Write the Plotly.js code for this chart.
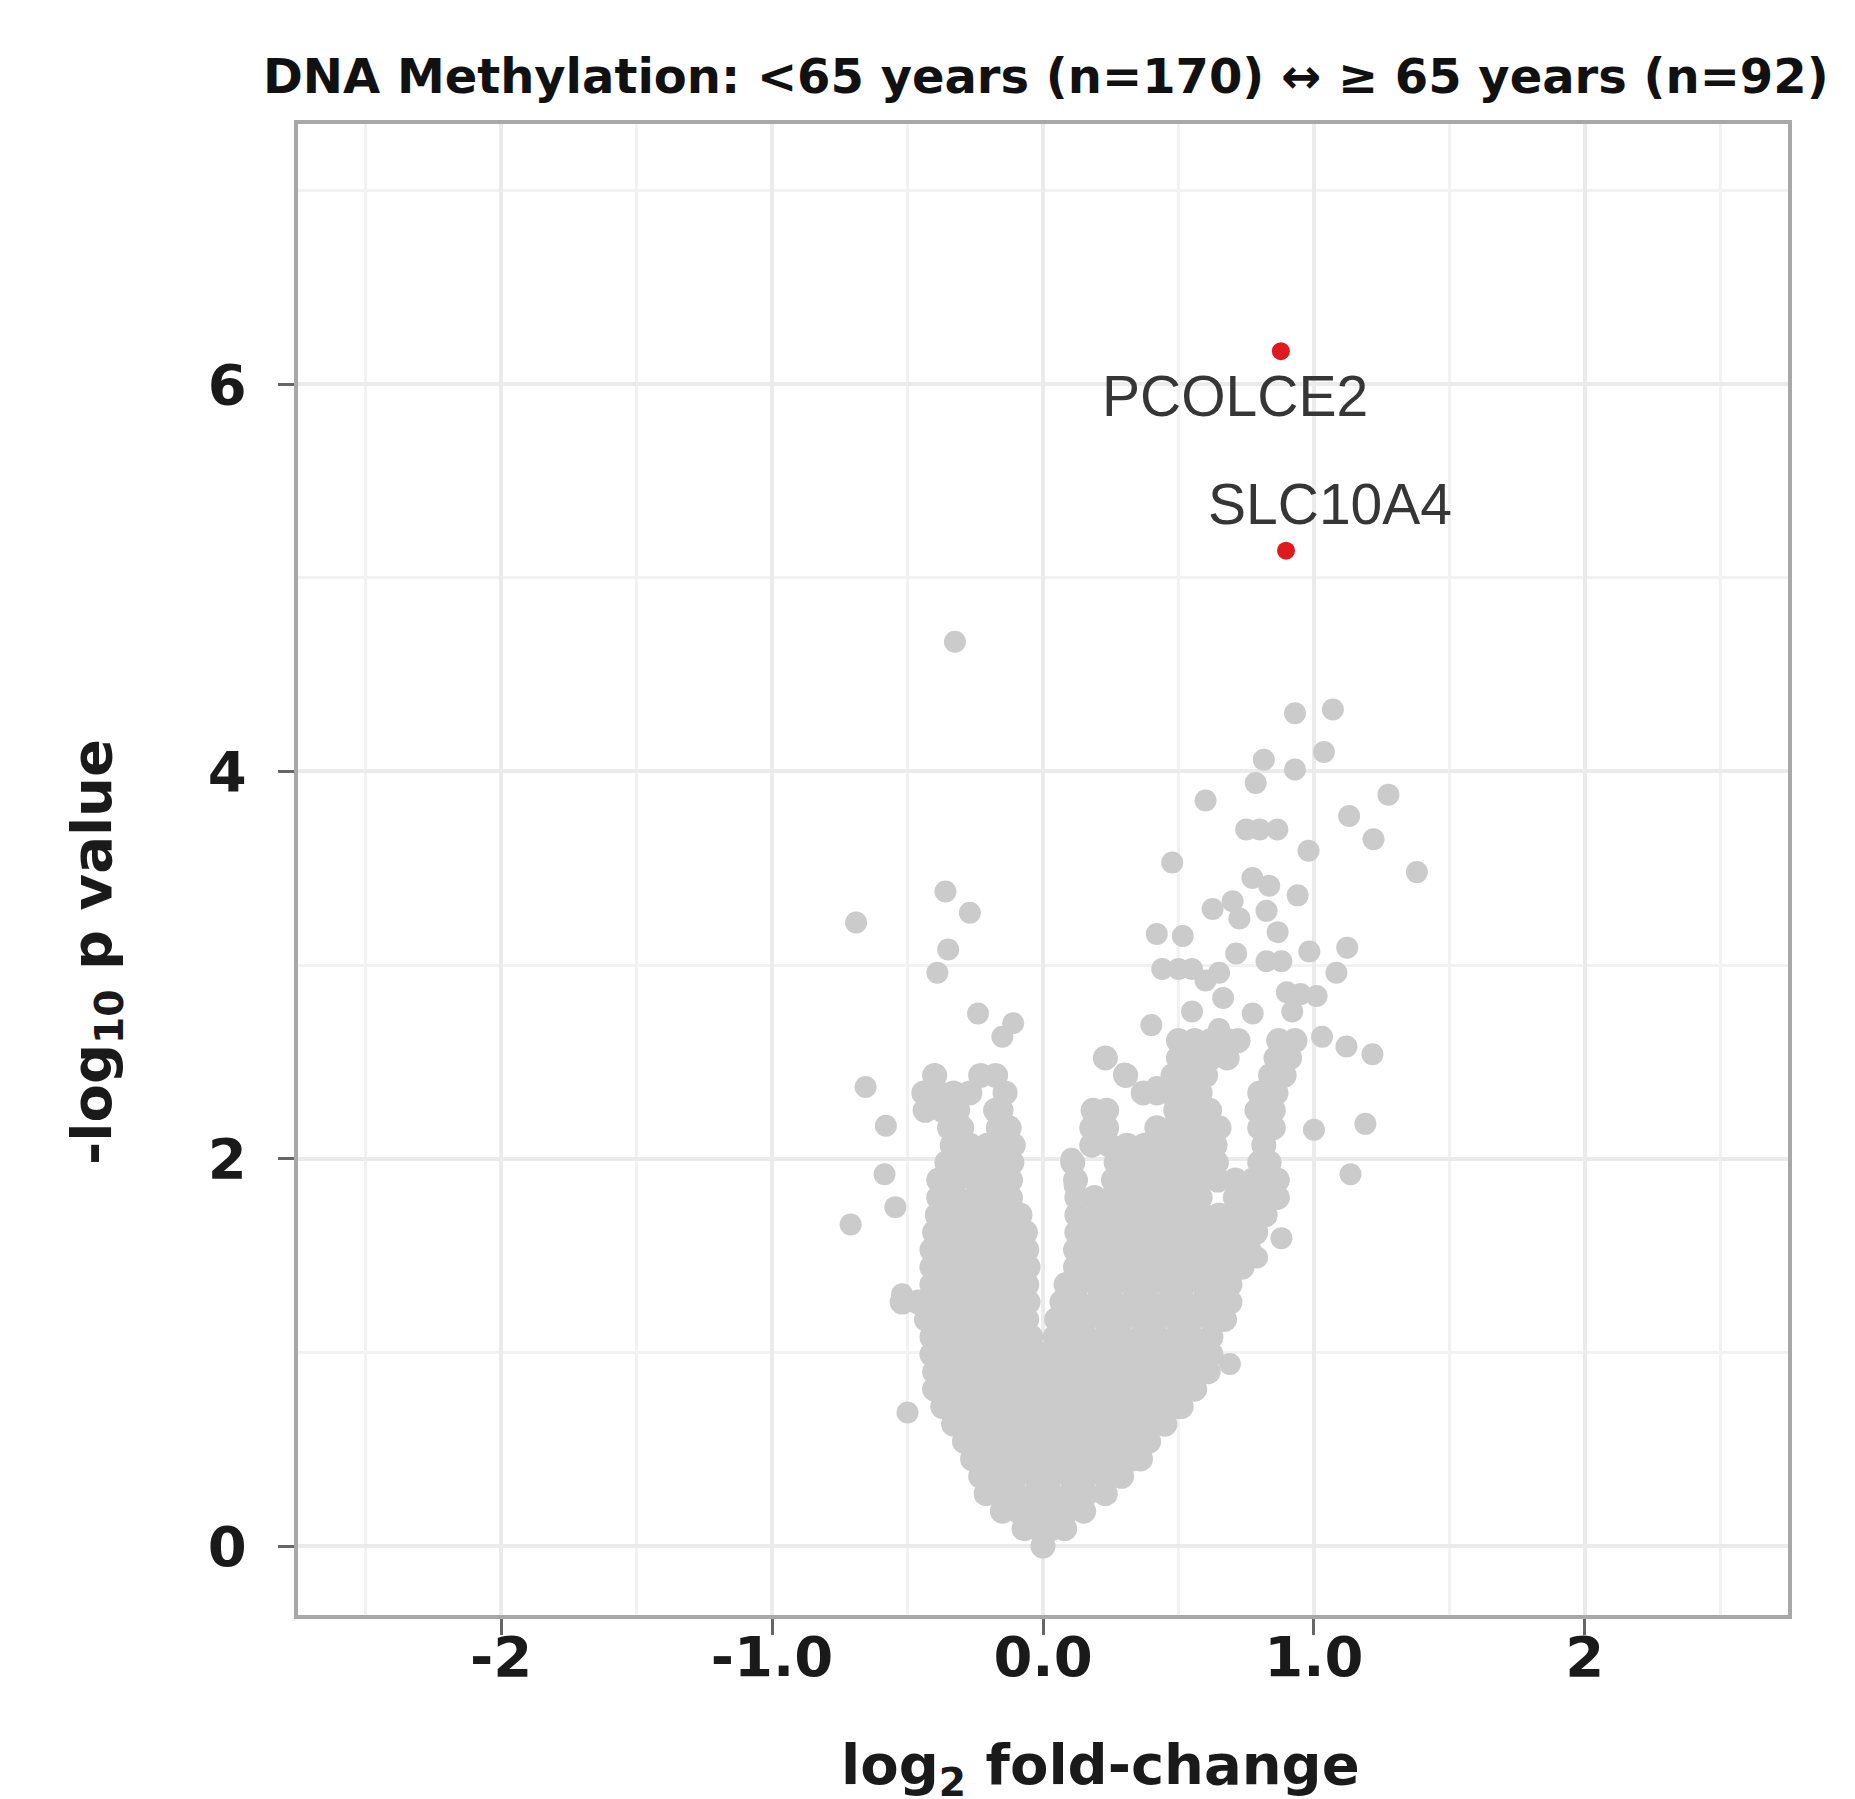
<!DOCTYPE html>
<html>
<head>
<meta charset="utf-8">
<script src="https://cdn.plot.ly/plotly-3.0.1.min.js"></script>
<style>html,body{margin:0;padding:0;background:#fff;}#plot{width:1855px;height:1799px;}</style>
</head>
<body>
<div id="plot"></div>
<script>
// ---- data ----
const titleText = "DNA Methylation: &lt;65 years (n=170) ↔ ≥ 65 years (n=92)";
const xTickVals = [-2, -1, 0, 1, 2];
const xTickText = ["-2", "-1.0", "0.0", "1.0", "2"];
const yTickVals = [0, 2, 4, 6];
const yTickText = ["0", "2", "4", "6"];

// dense cloud of non-significant CpGs, read row by row (-log10 p level, log2FC values)
const cloudRowY = [0.00, 0.09, 0.18, 0.27, 0.36, 0.45, 0.54, 0.63, 0.72, 0.81, 0.90, 0.99, 1.08, 1.17, 1.26, 1.35,
  1.44, 1.53, 1.62, 1.71, 1.80, 1.89, 1.98, 2.07, 2.16, 2.25, 2.34, 2.43, 2.52, 2.61];
const cloudRowX = [
  [0],
  [-0.07, -0.02, 0.03, 0.08],
  [-0.15, -0.09, -0.03, 0.03, 0.09, 0.15],
  [-0.21, -0.16, -0.10, -0.03, 0.03, 0.10, 0.16, 0.23],
  [-0.23, -0.16, -0.10, -0.03, 0.03, 0.10, 0.16, 0.23, 0.29],
  [-0.26, -0.20, -0.13, -0.07, 0, 0.07, 0.13, 0.20, 0.26, 0.33, 0.36],
  [-0.29, -0.23, -0.16, -0.10, -0.03, 0.03, 0.10, 0.16, 0.23, 0.29, 0.36, 0.39],
  [-0.33, -0.26, -0.20, -0.13, -0.07, 0, 0.07, 0.13, 0.20, 0.26, 0.33, 0.39, 0.45],
  [-0.37, -0.29, -0.23, -0.16, -0.10, -0.03, 0.03, 0.10, 0.16, 0.23, 0.29, 0.36, 0.42, 0.49, 0.51],
  [-0.40, -0.33, -0.26, -0.20, -0.13, -0.07, 0, 0.07, 0.13, 0.20, 0.26, 0.33, 0.39, 0.46, 0.52, 0.56],
  [-0.40, -0.36, -0.29, -0.23, -0.16, -0.10, -0.03, 0.03, 0.10, 0.16, 0.23, 0.29, 0.36, 0.42, 0.49, 0.55, 0.61],
  [-0.41, -0.33, -0.26, -0.20, -0.13, -0.07, 0, 0.07, 0.13, 0.20, 0.26, 0.33, 0.39, 0.46, 0.52, 0.59, 0.62],
  [-0.41, -0.36, -0.29, -0.23, -0.16, -0.10, -0.045, 0.045, 0.10, 0.16, 0.23, 0.29, 0.36, 0.42, 0.49, 0.55, 0.62],
  [-0.43, -0.39, -0.33, -0.26, -0.20, -0.13, -0.06, 0.05, 0.10, 0.16, 0.23, 0.29, 0.36, 0.42, 0.49, 0.55, 0.62, 0.67],
  [-0.52, -0.46, -0.42, -0.36, -0.29, -0.23, -0.16, -0.10, -0.055, 0.07, 0.13, 0.20, 0.26, 0.33, 0.39, 0.46, 0.52, 0.59, 0.65, 0.69],
  [-0.41, -0.33, -0.26, -0.20, -0.13, -0.06, 0.085, 0.13, 0.20, 0.26, 0.33, 0.39, 0.46, 0.52, 0.59, 0.65, 0.69],
  [-0.41, -0.36, -0.29, -0.23, -0.16, -0.10, -0.055, 0.12, 0.16, 0.23, 0.29, 0.36, 0.42, 0.49, 0.55, 0.62, 0.68, 0.735],
  [-0.41, -0.33, -0.26, -0.20, -0.13, -0.06, 0.12, 0.20, 0.26, 0.33, 0.39, 0.46, 0.52, 0.59, 0.65, 0.72, 0.76],
  [-0.40, -0.36, -0.29, -0.23, -0.16, -0.10, -0.065, 0.125, 0.16, 0.23, 0.29, 0.36, 0.42, 0.49, 0.55, 0.62, 0.68, 0.75, 0.785],
  [-0.39, -0.33, -0.26, -0.20, -0.13, -0.085, 0.125, 0.20, 0.26, 0.33, 0.39, 0.46, 0.52, 0.59, 0.65, 0.72, 0.78, 0.82],
  [-0.385, -0.32, -0.25, -0.185, -0.12, 0.125, 0.19, 0.255, 0.32, 0.385, 0.45, 0.515, 0.58, 0.71, 0.775, 0.84, 0.865],
  [-0.385, -0.32, -0.25, -0.185, -0.12, 0.12, 0.26, 0.32, 0.385, 0.45, 0.515, 0.58, 0.645, 0.71, 0.775, 0.84, 0.865],
  [-0.355, -0.29, -0.225, -0.16, -0.115, 0.11, 0.27, 0.33, 0.395, 0.46, 0.525, 0.59, 0.64, 0.80, 0.835],
  [-0.335, -0.27, -0.205, -0.14, -0.11, 0.18, 0.245, 0.31, 0.375, 0.44, 0.505, 0.57, 0.635, 0.815],
  [-0.345, -0.30, -0.165, -0.125, 0.18, 0.235, 0.42, 0.48, 0.545, 0.61, 0.65, 0.80, 0.85],
  [-0.435, -0.37, -0.315, -0.175, -0.155, 0.185, 0.235, 0.49, 0.55, 0.615, 0.79, 0.85],
  [-0.44, -0.385, -0.33, -0.27, -0.14, 0.37, 0.42, 0.47, 0.53, 0.58, 0.80, 0.86],
  [-0.40, -0.23, -0.175, 0.305, 0.48, 0.54, 0.60, 0.84, 0.89],
  [0.23, 0.50, 0.56, 0.62, 0.68, 0.86, 0.91],
  [0.50, 0.56, 0.62, 0.68, 0.72, 0.87, 0.93]
];

// scattered non-significant points outside the dense cloud
const outlierX = [-0.325, -0.36, -0.27, -0.69, -0.35, -0.39, -0.24, -0.11, -0.15, -0.655, -0.58, -0.585, -0.545, -0.71, -0.52, -0.50,
  0.93, 1.07, 1.037, 0.815, 0.93, 0.785, 0.60, 1.275, 1.13, 1.22, 0.75, 0.80, 0.865, 0.98, 1.38, 0.477, 0.773, 0.835, 0.94,
  0.626, 0.70, 0.725, 0.825, 0.866, 0.42, 0.516, 0.713, 0.825, 0.88, 0.983, 1.123, 0.44, 0.50, 0.55, 0.65, 1.083, 0.60,
  0.665, 0.55, 0.40, 0.774, 0.90, 0.95, 1.01, 0.92, 1.03, 1.12, 1.216, 0.234, 0.30, 0.42, 0.19, 0.105, 0.117, 1.0, 1.19,
  1.135, 0.88, 0.69, 0.73, 0.79, 0.65];
const outlierY = [4.67, 3.38, 3.27, 3.22, 3.08, 2.96, 2.75, 2.70, 2.63, 2.37, 2.17, 1.92, 1.75, 1.66, 1.30, 0.69,
  4.30, 4.32, 4.10, 4.06, 4.01, 3.94, 3.85, 3.88, 3.77, 3.65, 3.70, 3.70, 3.70, 3.59, 3.48, 3.53, 3.45, 3.41, 3.36,
  3.29, 3.33, 3.24, 3.28, 3.17, 3.16, 3.15, 3.06, 3.02, 3.02, 3.07, 3.09, 2.98, 2.98, 2.98, 2.96, 2.96, 2.92,
  2.83, 2.76, 2.69, 2.75, 2.86, 2.85, 2.84, 2.76, 2.63, 2.58, 2.54, 2.52, 2.44, 2.37, 2.21, 2.00, 1.86, 2.15, 2.18,
  1.92, 1.59, 0.94, 1.49, 1.49, 2.67];

// significant genes
const sigGenes = ["PCOLCE2", "SLC10A4"];
const sigX = [0.878, 0.897];
const sigY = [6.17, 5.14];
const labelX = [0.71, 1.061];
const labelY = [5.94, 5.38];

// ---- build traces ----
const cloudX = [], cloudY = [];
cloudRowY.forEach((yv, i) => { cloudRowX[i].forEach(xv => { cloudX.push(xv); cloudY.push(yv); }); });

const boldFont = {family: "DejaVu Sans, Arial, sans-serif", weight: "bold", color: "#1a1a1a"};

const traces = [
  {type: "scatter", mode: "markers", x: cloudX, y: cloudY, hoverinfo: "skip",
   marker: {color: "#cbcbcb", size: 25, line: {width: 0}}, showlegend: false},
  {type: "scatter", mode: "markers", x: outlierX, y: outlierY, hoverinfo: "skip",
   marker: {color: "#cbcbcb", size: 22, line: {width: 0}}, showlegend: false},
  {type: "scatter", mode: "markers", x: sigX, y: sigY, text: sigGenes,
   marker: {color: "#e0191e", size: 18, line: {width: 0}}, showlegend: false}
];

const annotations = sigGenes.map((g, i) => ({
  x: labelX[i], y: labelY[i], xref: "x", yref: "y", text: g, showarrow: false,
  xanchor: "center", yanchor: "middle",
  font: {family: "Liberation Sans, Arial, sans-serif", size: 57, color: "#363636"}
}));
annotations.push({
  xref: "paper", yref: "paper", x: (1100 - 298) / (1788 - 298), y: (1799 - 1768 - 184) / (1615 - 124),
  text: "log<sub>2</sub> fold-change", showarrow: false, xanchor: "center", yanchor: "middle",
  font: Object.assign({}, boldFont, {size: 56})
});
annotations.push({
  xref: "paper", yref: "paper", x: (95 - 298) / (1788 - 298), y: (1615 - 952) / (1615 - 124),
  text: "-log<sub>10</sub> p value", showarrow: false, textangle: -90, xanchor: "center", yanchor: "middle",
  font: Object.assign({}, boldFont, {size: 56})
});

const axisCommon = {
  showgrid: true, gridcolor: "#ebebeb", gridwidth: 4, zeroline: false,
  showline: true, mirror: true, linecolor: "#a8a8a8", linewidth: 4,
  ticks: "outside", ticklen: 16, tickwidth: 3, tickcolor: "#666666",
  tickfont: Object.assign({}, boldFont, {size: 56}),
  fixedrange: true
};

const layout = {
  width: 1855, height: 1799,
  margin: {l: 298, r: 67, t: 124, b: 184, pad: 0},
  paper_bgcolor: "#ffffff", plot_bgcolor: "#ffffff",
  title: {text: titleText, x: 263 / 1855, xref: "container", xanchor: "left",
          y: 1 - 76 / 1799, yref: "container", yanchor: "middle",
          font: Object.assign({}, boldFont, {size: 48, color: "#111111"})},
  xaxis: Object.assign({}, axisCommon, {
    range: [-2.75, 2.75], tickmode: "array", tickvals: xTickVals, ticktext: xTickText,
    ticklabelstandoff: -26,
    minor: {tickvals: [-2.5, -1.5, -0.5, 0.5, 1.5, 2.5], showgrid: true, gridcolor: "#f2f2f2", gridwidth: 3, ticklen: 0}
  }),
  yaxis: Object.assign({}, axisCommon, {
    range: [-0.356, 7.343], tickmode: "array", tickvals: yTickVals, ticktext: yTickText,
    ticklabelstandoff: 20,
    minor: {tickvals: [1, 3, 5, 7], showgrid: true, gridcolor: "#f2f2f2", gridwidth: 3, ticklen: 0}
  }),
  annotations: annotations,
  showlegend: false
};

Plotly.newPlot("plot", traces, layout, {staticPlot: true, displayModeBar: false});
</script>
</body>
</html>
